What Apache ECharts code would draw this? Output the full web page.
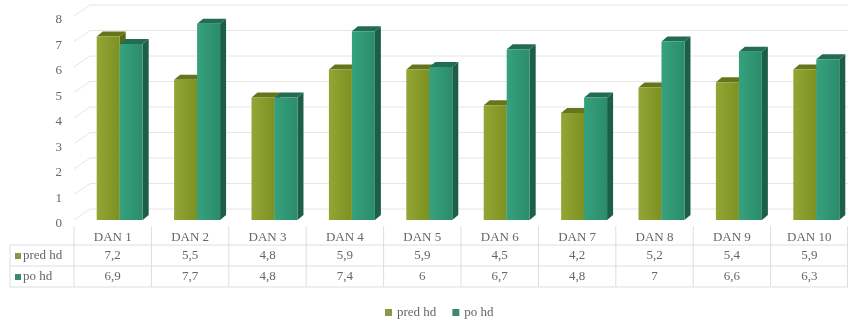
<!DOCTYPE html>
<html>
<head>
<meta charset="utf-8">
<script src="https://cdn.jsdelivr.net/npm/echarts@6/dist/echarts.min.js"></script>
<style>
html,body{margin:0;padding:0;background:#fff;}
#chart{width:848px;height:320px;}
</style>
</head>
<body>
<div id="chart"></div>
<script>
const categories = ['DAN 1','DAN 2','DAN 3','DAN 4','DAN 5','DAN 6','DAN 7','DAN 8','DAN 9','DAN 10'];
const predHd = [7.2, 5.5, 4.8, 5.9, 5.9, 4.5, 4.2, 5.2, 5.4, 5.9];
const poHd   = [6.9, 7.7, 4.8, 7.4, 6, 6.7, 4.8, 7, 6.6, 6.3];
const yTicks = [0, 1, 2, 3, 4, 5, 6, 7, 8];
const seriesNames = ['pred hd', 'po hd'];

const FONT = 'Liberation Serif';
const TXT = '#666666';
const LINE = '#dedede';
const GRIDC = '#e6e6e6';
const PRED = {front:['#93a635','#7c9121'], side:'#5a6a14', top:'#65761a', legend:'#86994a'};
const PO   = {front:['#36a17e','#2b8c6b'], side:'#1d5f46', top:'#226d50', legend:'#3a8a72'};

function fmt(v){ return String(v).replace('.', ','); }

function barRender(k, col){
  return function(params, api){
    const i = api.value(0), v = api.value(1);
    const c = api.coord([i, v]);
    const b = api.coord([i, 0]);
    const band = api.size([1, 0])[0];
    const w = band * 0.297;
    const fx = 7, fy = -4, dx = 6, dy = -5;
    const x = c[0] + fx - w + k * w;
    const yT = c[1] + fy, yB = b[1] + fy;
    return {
      type: 'group',
      children: [
        {type:'polygon', shape:{points:[[x+w,yT],[x+w+dx,yT+dy],[x+w+dx,yB+dy],[x+w,yB]]}, style:{fill:col.side}},
        {type:'polygon', shape:{points:[[x,yT],[x+dx,yT+dy],[x+w+dx,yT+dy],[x+w,yT]]}, style:{fill:col.top}},
        {type:'rect', shape:{x:x, y:yT, width:w, height:yB-yT}, style:{fill:{type:'linear',x:0,y:0,x2:1,y2:0,colorStops:[{offset:0,color:col.front[0]},{offset:1,color:col.front[1]}]}}}
      ]
    };
  };
}

function wallRender(params, api){
  const v = api.value(1);
  const band = api.size([1, 0])[0];
  const left = api.coord([0, v])[0] - band/2;
  const right = api.coord([categories.length-1, v])[0] + band/2;
  const y = api.coord([0, v])[1];
  return {
    type:'polyline',
    shape:{points:[[left, y-4],[left+16, y-15],[right, y-15]]},
    style:{stroke:GRIDC, lineWidth:1, fill:null}
  };
}

function tableRender(params, api){
  const i = api.value(0);
  const c = api.coord([i, 0]);
  const band = api.size([1, 0])[0];
  const x0 = c[0] - band/2, x1 = c[0] + band/2;
  const y0 = c[1];
  const ch = [];
  const lineStyle = {stroke:LINE, lineWidth:1};
  ch.push({type:'line', shape:{x1:x0, y1:y0+2, x2:x0, y2:y0+63}, style:lineStyle});
  if (i === categories.length-1) ch.push({type:'line', shape:{x1:x1-0.5, y1:y0+2, x2:x1-0.5, y2:y0+63}, style:lineStyle});
  [21, 42, 63].forEach(function(d){
    ch.push({type:'line', shape:{x1:x0, y1:y0+d, x2:x1, y2:y0+d}, style:lineStyle});
  });
  const ts = {fill:TXT, font:'13px "' + FONT + '"', align:'center', verticalAlign:'middle'};
  ch.push({type:'text', style:Object.assign({}, ts, {x:c[0], y:y0+14, text:categories[i]})});
  ch.push({type:'text', style:Object.assign({}, ts, {x:c[0], y:y0+32, text:fmt(predHd[i])})});
  ch.push({type:'text', style:Object.assign({}, ts, {x:c[0], y:y0+53, text:fmt(poHd[i])})});
  if (i === 0) {
    const lx = 10;
    [21, 42, 63].forEach(function(d){
      ch.push({type:'line', shape:{x1:lx, y1:y0+d, x2:x0, y2:y0+d}, style:lineStyle});
    });
    ch.push({type:'line', shape:{x1:lx, y1:y0+21, x2:lx, y2:y0+63}, style:lineStyle});
    const rows = [[seriesNames[0], PRED.legend, 32],[seriesNames[1], PO.legend, 53]];
    rows.forEach(function(r){
      ch.push({type:'rect', shape:{x:lx+5, y:y0+r[2]-3, width:6, height:6}, style:{fill:r[1]}});
      ch.push({type:'text', style:{x:lx+13, y:y0+r[2], text:r[0], fill:TXT, font:'13px "' + FONT + '"', align:'left', verticalAlign:'middle'}});
    });
  }
  return {type:'group', children:ch};
}

const chart = echarts.init(document.getElementById('chart'), null, {renderer:'canvas'});
chart.setOption({
  animation:false,
  backgroundColor:'#ffffff',
  textStyle:{fontFamily:FONT},
  grid:{left:74, right:0, top:20, bottom:96, containLabel:false},
  legend:{
    data:seriesNames, top:301, left:380, icon:'rect', itemWidth:7, itemHeight:7, itemGap:16,
    textStyle:{fontFamily:FONT, fontSize:13, color:TXT}, selectedMode:false
  },
  xAxis:{type:'category', data:categories, axisLine:{show:false}, axisTick:{show:false}, axisLabel:{show:false}, splitLine:{show:false}},
  yAxis:{type:'value', min:0, max:8, interval:1, axisLine:{show:false}, axisTick:{show:false}, splitLine:{show:false},
    axisLabel:{color:TXT, fontFamily:FONT, fontSize:13, margin:12}},
  series:[
    {type:'custom', name:'walls', renderItem:wallRender, data:yTicks.map(function(v){return [0, v];}), silent:true, z:1, clip:false},
    {type:'custom', name:seriesNames[0], renderItem:barRender(0, PRED), itemStyle:{color:PRED.legend},
      data:predHd.map(function(v,i){return [i, v];}), encode:{x:0, y:1}, z:3, clip:false},
    {type:'custom', name:seriesNames[1], renderItem:barRender(1, PO), itemStyle:{color:PO.legend},
      data:poHd.map(function(v,i){return [i, v];}), encode:{x:0, y:1}, z:4, clip:false},
    {type:'custom', name:'table', renderItem:tableRender, data:categories.map(function(c,i){return [i, 0];}), silent:true, z:2, clip:false}
  ]
});
</script>
</body>
</html>
